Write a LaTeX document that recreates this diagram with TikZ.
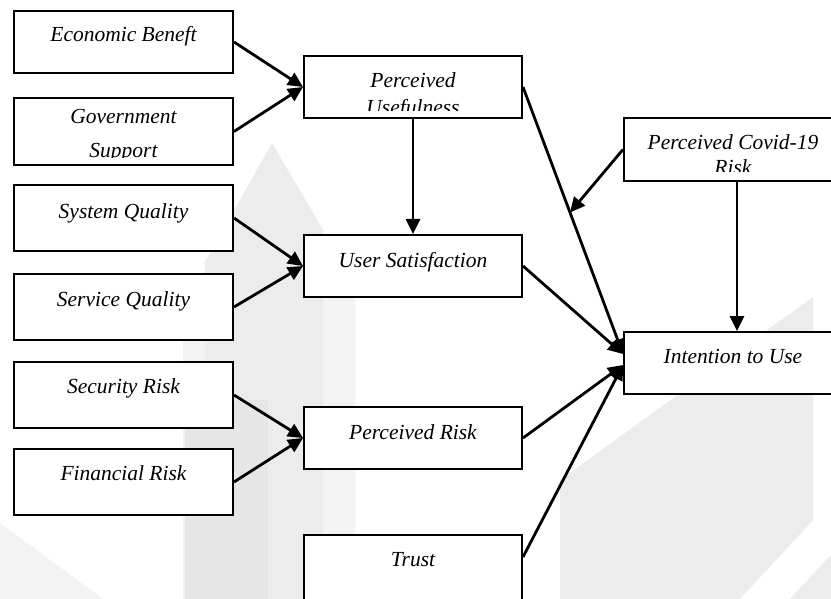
\documentclass[tikz,border=0pt]{standalone}
\usepackage{fontspec}
\setmainfont{Liberation Serif}
\usetikzlibrary{arrows.meta,calc}
\definecolor{wmlight}{HTML}{F3F3F3}
\definecolor{wmmid}{HTML}{ECECEC}
\definecolor{wmdark}{HTML}{E6E6E6}
\begin{document}
\begin{tikzpicture}[x=1pt,y=-1pt,
  box/.style={draw=black,line width=2pt,fill=white,inner sep=0pt,minimum width=219pt,minimum height=66pt},
  lbl/.style={font=\fontsize{21.5}{25}\selectfont\itshape,align=center,inner sep=0pt,anchor=base},
  arr/.style={line width=2.8pt,-{Triangle[length=15pt,width=14pt]}},
]
\useasboundingbox (0,0) rectangle (831,599);
\clip (0,0) rectangle (831,599);
\fill[white] (0,0) rectangle (831,599);
% watermark
\fill[wmlight] (272,143) -- (355,295) -- (355,599) -- (183,599) -- (183,340) -- cycle;
\fill[wmmid] (272,143) -- (323,230) -- (323,599) -- (205,599) -- (205,262) -- cycle;
\fill[wmdark] (185,400) rectangle (268,599);
\fill[wmmid] (560,480) -- (813,297) -- (813,520) -- (740,599) -- (560,599) -- cycle;
\fill[wmmid] (790,599) -- (831,555) -- (831,599) -- cycle;
\fill[wmlight] (0,523) -- (103,599) -- (0,599) -- cycle;

% boxes
\node[box,minimum height=62pt] (eb) at (123.5,42) {};
\node[box,minimum height=67pt] (gs) at (123.5,131.5) {};
\node[box] (sq) at (123.5,218) {};
\node[box] (svq) at (123.5,307) {};
\node[box] (sr) at (123.5,395) {};
\node[box] (fr) at (123.5,482) {};
\node[box,minimum width=218pt,minimum height=62pt] (pu) at (413,87) {};
\node[box,minimum width=218pt,minimum height=62pt] (us) at (413,266) {};
\node[box,minimum width=218pt,minimum height=62pt] (pr) at (413,438) {};
\node[box,minimum width=218pt,minimum height=80pt] (tr) at (413,575) {};
\node[box,minimum width=222pt,minimum height=63pt] (cv) at (735,149.5) {};
\node[box,minimum width=222pt,minimum height=62pt] (itu) at (735,363) {};

% labels
\node[lbl] (ebt) at (123.5,42) {Economic Beneft};
\begin{scope}
\clip ([xshift=1pt]gs.north west) rectangle ([xshift=-1pt,yshift=8pt]gs.south east);
\node[lbl,font=\fontsize{21.5}{34}\selectfont\itshape] (gst) at (123.5,158) {Government\\Support};
\end{scope}
\node[lbl] (sqt) at (123.5,219) {System Quality};
\node[lbl] (svqt) at (123.5,306) {Service Quality};
\node[lbl] (srt) at (123.5,393) {Security Risk};
\node[lbl] (frt) at (123.5,480) {Financial Risk};
\begin{scope}
\clip ([xshift=1pt]pu.north west) rectangle ([xshift=-1pt,yshift=8pt]pu.south east);
\node[lbl,font=\fontsize{21.5}{27}\selectfont\itshape] (put) at (413,115) {Perceived\\Usefulness};
\end{scope}
\node[lbl] (ust) at (413,267) {User Satisfaction};
\node[lbl] (prt) at (413,439) {Perceived Risk};
\node[lbl] (trt) at (413,566) {Trust};
\begin{scope}
\clip ([xshift=1pt]cv.north west) rectangle ([xshift=-1pt,yshift=10pt]cv.south east);
\node[lbl] (cvt) at (733,175) {Perceived Covid-19\\Risk};
\end{scope}
\node[lbl] (itut) at (733,363) {Intention to Use};

% connectors
\coordinate (in1) at ($(itu.west)+(0,-9)$);
\coordinate (in2) at ($(itu.west)+(0,2)$);
\coordinate (trout) at ($(tr.north east)+(0,23)$);
\coordinate (mod) at ($(pu.east)!0.47!(in1)$);
\draw[arr] (eb.east) -- (pu.west);
\draw[arr] (gs.east) -- (pu.west);
\draw[arr] (sq.east) -- (us.west);
\draw[arr] (svq.east) -- (us.west);
\draw[arr] (sr.east) -- (pr.west);
\draw[arr] (fr.east) -- (pr.west);
\draw[arr] (pu.south) -- (us.north);
\draw[arr] (pu.east) -- (in1);
\draw[arr] (us.east) -- (in1);
\draw[arr] (pr.east) -- (in2);
\draw[arr] (trout) -- (in2);
\draw[arr] (cv.west) -- (mod);
\draw[arr] ([xshift=2pt]cv.south) -- ([xshift=2pt]itu.north);
\end{tikzpicture}
\end{document}
